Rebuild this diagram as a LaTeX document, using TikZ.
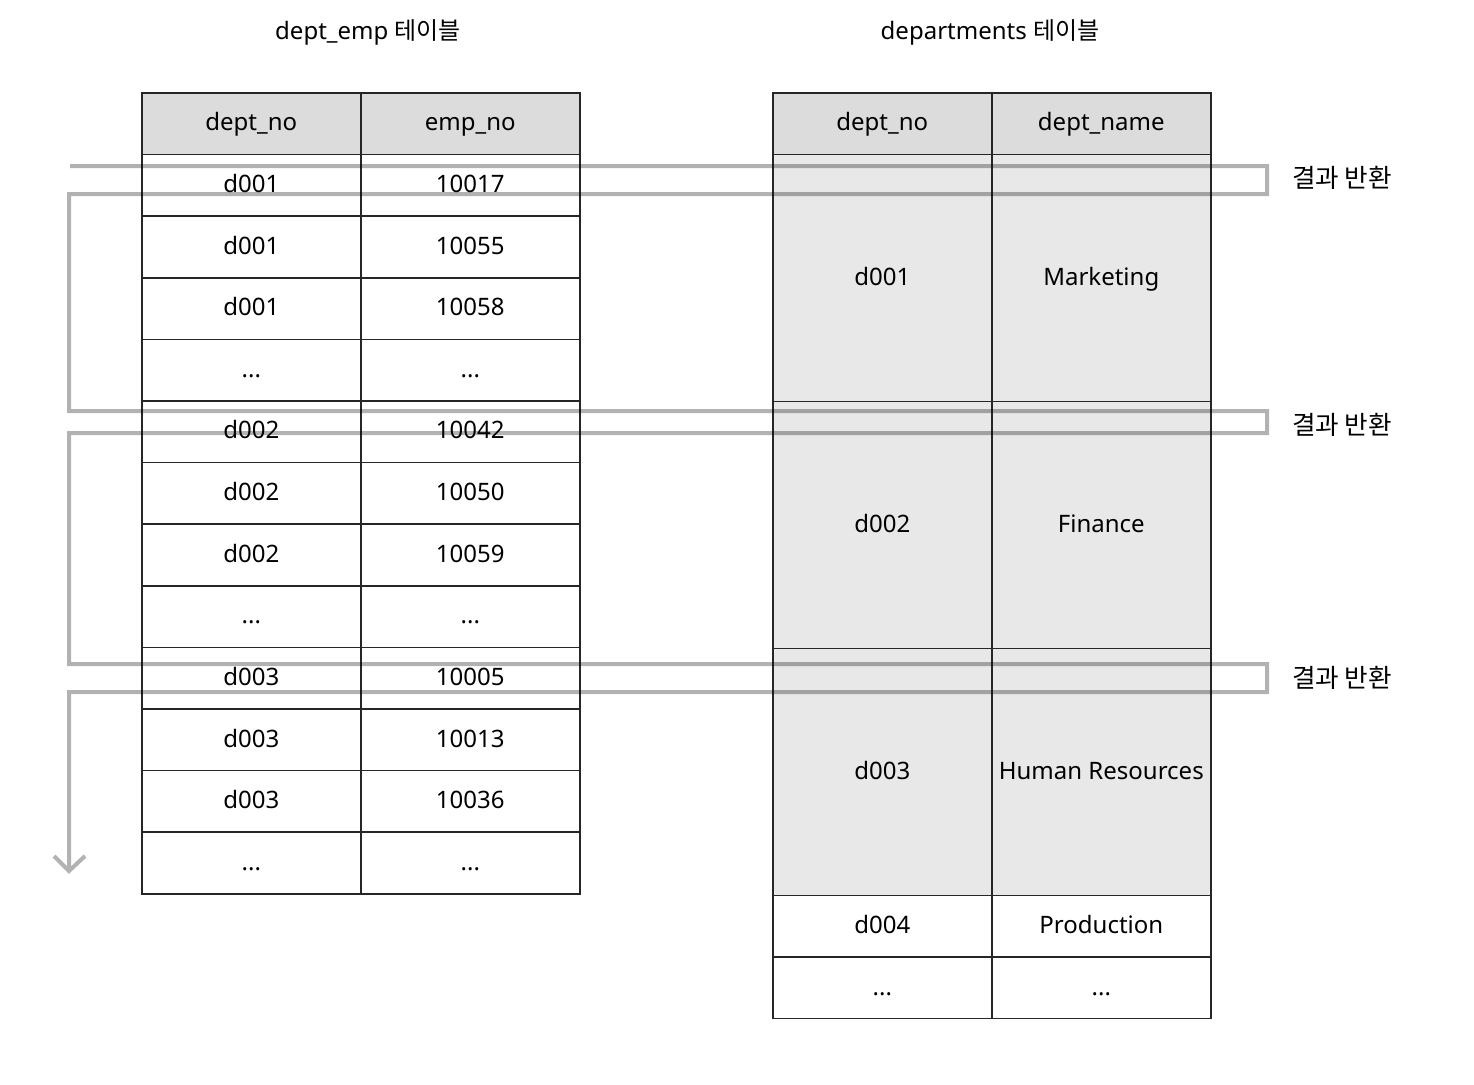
\documentclass[tikz,border=0pt]{standalone}
\usepackage{fontspec}
\setmainfont{Noto Sans}
\newfontfamily\kr{Noto Sans CJK KR}
\definecolor{hdr}{HTML}{DCDCDC}
\definecolor{bodyg}{HTML}{E8E8E8}
\begin{document}
\begin{tikzpicture}[x=0.5pt,y=-0.5pt,
  txt/.style={font=\fontsize{12}{14}\selectfont, text height=0.72em, text depth=0em},
  cell/.style={txt, draw=black!85, line width=0.8pt, inner sep=0pt, anchor=north west, minimum width=109.5pt, minimum height=30.8pt},
  tall/.style={cell, fill=bodyg, minimum height=123.5pt},
  lbl/.style={txt, font=\fontsize{12.8}{14}\selectfont},
  snakeline/.style={draw=black, draw opacity=0.3, line width=2pt, line join=miter}]
\useasboundingbox (0,0) rectangle (1474,1084);
% titles
\node[txt] (t1) at (368,32) {dept\_emp {\kr 테이블}};
\node[txt] (t2) at (990,32) {departments {\kr 테이블}};
% left table
\node[cell, fill=hdr] (Lh1) at (141,92) {dept\_no};
\node[cell, fill=hdr] (Lh2) at (360,92) {emp\_no};
\node[cell] (L1a) at (141,153.6) {d001};  \node[cell] (L1b) at (360,153.6) {10017};
\node[cell] (L2a) at (141,215.2) {d001};  \node[cell] (L2b) at (360,215.2) {10055};
\node[cell] (L3a) at (141,276.9) {d001};  \node[cell] (L3b) at (360,276.9) {10058};
\node[cell] (L4a) at (141,338.5) {...};   \node[cell] (L4b) at (360,338.5) {...};
\node[cell] (L5a) at (141,400.1) {d002};  \node[cell] (L5b) at (360,400.1) {10042};
\node[cell] (L6a) at (141,461.7) {d002};  \node[cell] (L6b) at (360,461.7) {10050};
\node[cell] (L7a) at (141,523.3) {d002};  \node[cell] (L7b) at (360,523.3) {10059};
\node[cell] (L8a) at (141,585.0) {...};   \node[cell] (L8b) at (360,585.0) {...};
\node[cell] (L9a) at (141,646.6) {d003};  \node[cell] (L9b) at (360,646.6) {10005};
\node[cell] (L10a) at (141,708.2) {d003}; \node[cell] (L10b) at (360,708.2) {10013};
\node[cell] (L11a) at (141,769.8) {d003}; \node[cell] (L11b) at (360,769.8) {10036};
\node[cell] (L12a) at (141,831.4) {...};  \node[cell] (L12b) at (360,831.4) {...};
% right table
\node[cell, fill=hdr] (Rh1) at (772,92) {dept\_no};
\node[cell, fill=hdr] (Rh2) at (991,92) {dept\_name};
\node[tall] (R1a) at (772,153.6) {d001};  \node[tall] (R1b) at (991,153.6) {Marketing};
\node[tall] (R2a) at (772,400.6) {d002};  \node[tall] (R2b) at (991,400.6) {Finance};
\node[tall] (R3a) at (772,647.6) {d003};  \node[tall] (R3b) at (991,647.6) {Human Resources};
\node[cell] (R4a) at (772,894.6) {d004};  \node[cell] (R4b) at (991,894.6) {Production};
\node[cell] (R5a) at (772,956.2) {...};   \node[cell] (R5b) at (991,956.2) {...};
% snake
\coordinate (s0) at (70,166);
\coordinate (s1) at (1267,166);
\coordinate (s2) at (1267,194);
\coordinate (s3) at (69,194);
\coordinate (s4) at (69,411);
\coordinate (s5) at (1267,411);
\coordinate (s6) at (1267,433);
\coordinate (s7) at (69,433);
\coordinate (s8) at (69,664);
\coordinate (s9) at (1267,664);
\coordinate (s10) at (1267,692);
\coordinate (s11) at (69,692);
\coordinate (s12) at (69,871);
\coordinate (aL) at (54,856);
\coordinate (aR) at (85,856);
\draw[snakeline] (s0) -- (s1) -- (s2) -- (s3) -- (s4) -- (s5) -- (s6) -- (s7) -- (s8) -- (s9) -- (s10) -- (s11) -- (s12) (aL) -- (s12) -- (aR);
% labels
\node[lbl] (r1) at (1342,180) {\kr 결과 반환};
\node[lbl] (r2) at (1342,427) {\kr 결과 반환};
\node[lbl] (r3) at (1342,680) {\kr 결과 반환};
\end{tikzpicture}
\end{document}
